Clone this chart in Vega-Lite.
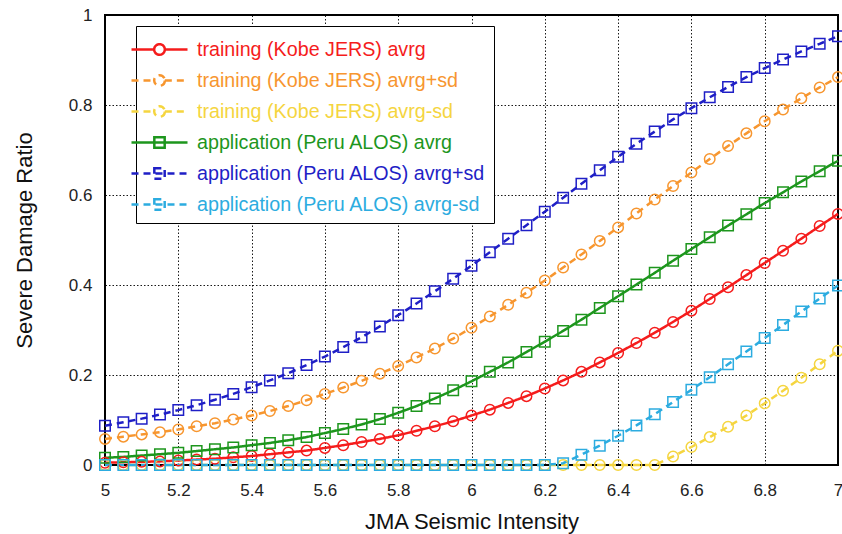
{
  "$schema": "https://vega.github.io/schema/vega-lite/v6.json",
  "width": 733,
  "height": 450,
  "autosize": "none",
  "padding": {"left": 105, "top": 15, "right": 4, "bottom": 69},
  "background": "white",
  "config": {
    "font": "Liberation Sans",
    "view": {"stroke": "black", "strokeWidth": 2},
    "axis": {
      "domain": false,
      "ticks": false,
      "tickSize": 0,
      "grid": true,
      "gridColor": "black",
      "gridDash": [1.5, 2],
      "gridWidth": 1,
      "gridOpacity": 0.9,
      "labelFontSize": 17,
      "labelColor": "#222222",
      "titleFontSize": 22,
      "titleFontWeight": "normal",
      "titleColor": "#111111",
      "labelFont": "Liberation Sans",
      "titleFont": "Liberation Sans"
    }
  },
  "datasets": {
    "curves": [
      {"x": 5.00, "y": 0.005, "set": "training", "series": "training (Kobe JERS) avrg"},
      {"x": 5.05, "y": 0.006, "set": "training", "series": "training (Kobe JERS) avrg"},
      {"x": 5.10, "y": 0.007, "set": "training", "series": "training (Kobe JERS) avrg"},
      {"x": 5.15, "y": 0.008, "set": "training", "series": "training (Kobe JERS) avrg"},
      {"x": 5.20, "y": 0.010, "set": "training", "series": "training (Kobe JERS) avrg"},
      {"x": 5.25, "y": 0.012, "set": "training", "series": "training (Kobe JERS) avrg"},
      {"x": 5.30, "y": 0.014, "set": "training", "series": "training (Kobe JERS) avrg"},
      {"x": 5.35, "y": 0.017, "set": "training", "series": "training (Kobe JERS) avrg"},
      {"x": 5.40, "y": 0.020, "set": "training", "series": "training (Kobe JERS) avrg"},
      {"x": 5.45, "y": 0.024, "set": "training", "series": "training (Kobe JERS) avrg"},
      {"x": 5.50, "y": 0.028, "set": "training", "series": "training (Kobe JERS) avrg"},
      {"x": 5.55, "y": 0.032, "set": "training", "series": "training (Kobe JERS) avrg"},
      {"x": 5.60, "y": 0.038, "set": "training", "series": "training (Kobe JERS) avrg"},
      {"x": 5.65, "y": 0.044, "set": "training", "series": "training (Kobe JERS) avrg"},
      {"x": 5.70, "y": 0.051, "set": "training", "series": "training (Kobe JERS) avrg"},
      {"x": 5.75, "y": 0.058, "set": "training", "series": "training (Kobe JERS) avrg"},
      {"x": 5.80, "y": 0.066, "set": "training", "series": "training (Kobe JERS) avrg"},
      {"x": 5.85, "y": 0.076, "set": "training", "series": "training (Kobe JERS) avrg"},
      {"x": 5.90, "y": 0.086, "set": "training", "series": "training (Kobe JERS) avrg"},
      {"x": 5.95, "y": 0.097, "set": "training", "series": "training (Kobe JERS) avrg"},
      {"x": 6.00, "y": 0.110, "set": "training", "series": "training (Kobe JERS) avrg"},
      {"x": 6.05, "y": 0.123, "set": "training", "series": "training (Kobe JERS) avrg"},
      {"x": 6.10, "y": 0.138, "set": "training", "series": "training (Kobe JERS) avrg"},
      {"x": 6.15, "y": 0.153, "set": "training", "series": "training (Kobe JERS) avrg"},
      {"x": 6.20, "y": 0.170, "set": "training", "series": "training (Kobe JERS) avrg"},
      {"x": 6.25, "y": 0.188, "set": "training", "series": "training (Kobe JERS) avrg"},
      {"x": 6.30, "y": 0.207, "set": "training", "series": "training (Kobe JERS) avrg"},
      {"x": 6.35, "y": 0.228, "set": "training", "series": "training (Kobe JERS) avrg"},
      {"x": 6.40, "y": 0.249, "set": "training", "series": "training (Kobe JERS) avrg"},
      {"x": 6.45, "y": 0.271, "set": "training", "series": "training (Kobe JERS) avrg"},
      {"x": 6.50, "y": 0.294, "set": "training", "series": "training (Kobe JERS) avrg"},
      {"x": 6.55, "y": 0.318, "set": "training", "series": "training (Kobe JERS) avrg"},
      {"x": 6.60, "y": 0.343, "set": "training", "series": "training (Kobe JERS) avrg"},
      {"x": 6.65, "y": 0.369, "set": "training", "series": "training (Kobe JERS) avrg"},
      {"x": 6.70, "y": 0.395, "set": "training", "series": "training (Kobe JERS) avrg"},
      {"x": 6.75, "y": 0.422, "set": "training", "series": "training (Kobe JERS) avrg"},
      {"x": 6.80, "y": 0.449, "set": "training", "series": "training (Kobe JERS) avrg"},
      {"x": 6.85, "y": 0.476, "set": "training", "series": "training (Kobe JERS) avrg"},
      {"x": 6.90, "y": 0.503, "set": "training", "series": "training (Kobe JERS) avrg"},
      {"x": 6.95, "y": 0.531, "set": "training", "series": "training (Kobe JERS) avrg"},
      {"x": 7.00, "y": 0.558, "set": "training", "series": "training (Kobe JERS) avrg"},

      {"x": 5.00, "y": 0.058, "set": "training", "series": "training (Kobe JERS) avrg+sd"},
      {"x": 5.05, "y": 0.063, "set": "training", "series": "training (Kobe JERS) avrg+sd"},
      {"x": 5.10, "y": 0.068, "set": "training", "series": "training (Kobe JERS) avrg+sd"},
      {"x": 5.15, "y": 0.073, "set": "training", "series": "training (Kobe JERS) avrg+sd"},
      {"x": 5.20, "y": 0.079, "set": "training", "series": "training (Kobe JERS) avrg+sd"},
      {"x": 5.25, "y": 0.086, "set": "training", "series": "training (Kobe JERS) avrg+sd"},
      {"x": 5.30, "y": 0.093, "set": "training", "series": "training (Kobe JERS) avrg+sd"},
      {"x": 5.35, "y": 0.101, "set": "training", "series": "training (Kobe JERS) avrg+sd"},
      {"x": 5.40, "y": 0.110, "set": "training", "series": "training (Kobe JERS) avrg+sd"},
      {"x": 5.45, "y": 0.120, "set": "training", "series": "training (Kobe JERS) avrg+sd"},
      {"x": 5.50, "y": 0.131, "set": "training", "series": "training (Kobe JERS) avrg+sd"},
      {"x": 5.55, "y": 0.144, "set": "training", "series": "training (Kobe JERS) avrg+sd"},
      {"x": 5.60, "y": 0.158, "set": "training", "series": "training (Kobe JERS) avrg+sd"},
      {"x": 5.65, "y": 0.172, "set": "training", "series": "training (Kobe JERS) avrg+sd"},
      {"x": 5.70, "y": 0.187, "set": "training", "series": "training (Kobe JERS) avrg+sd"},
      {"x": 5.75, "y": 0.203, "set": "training", "series": "training (Kobe JERS) avrg+sd"},
      {"x": 5.80, "y": 0.220, "set": "training", "series": "training (Kobe JERS) avrg+sd"},
      {"x": 5.85, "y": 0.239, "set": "training", "series": "training (Kobe JERS) avrg+sd"},
      {"x": 5.90, "y": 0.259, "set": "training", "series": "training (Kobe JERS) avrg+sd"},
      {"x": 5.95, "y": 0.281, "set": "training", "series": "training (Kobe JERS) avrg+sd"},
      {"x": 6.00, "y": 0.305, "set": "training", "series": "training (Kobe JERS) avrg+sd"},
      {"x": 6.05, "y": 0.330, "set": "training", "series": "training (Kobe JERS) avrg+sd"},
      {"x": 6.10, "y": 0.356, "set": "training", "series": "training (Kobe JERS) avrg+sd"},
      {"x": 6.15, "y": 0.383, "set": "training", "series": "training (Kobe JERS) avrg+sd"},
      {"x": 6.20, "y": 0.410, "set": "training", "series": "training (Kobe JERS) avrg+sd"},
      {"x": 6.25, "y": 0.439, "set": "training", "series": "training (Kobe JERS) avrg+sd"},
      {"x": 6.30, "y": 0.468, "set": "training", "series": "training (Kobe JERS) avrg+sd"},
      {"x": 6.35, "y": 0.498, "set": "training", "series": "training (Kobe JERS) avrg+sd"},
      {"x": 6.40, "y": 0.528, "set": "training", "series": "training (Kobe JERS) avrg+sd"},
      {"x": 6.45, "y": 0.559, "set": "training", "series": "training (Kobe JERS) avrg+sd"},
      {"x": 6.50, "y": 0.590, "set": "training", "series": "training (Kobe JERS) avrg+sd"},
      {"x": 6.55, "y": 0.620, "set": "training", "series": "training (Kobe JERS) avrg+sd"},
      {"x": 6.60, "y": 0.650, "set": "training", "series": "training (Kobe JERS) avrg+sd"},
      {"x": 6.65, "y": 0.680, "set": "training", "series": "training (Kobe JERS) avrg+sd"},
      {"x": 6.70, "y": 0.709, "set": "training", "series": "training (Kobe JERS) avrg+sd"},
      {"x": 6.75, "y": 0.737, "set": "training", "series": "training (Kobe JERS) avrg+sd"},
      {"x": 6.80, "y": 0.764, "set": "training", "series": "training (Kobe JERS) avrg+sd"},
      {"x": 6.85, "y": 0.790, "set": "training", "series": "training (Kobe JERS) avrg+sd"},
      {"x": 6.90, "y": 0.815, "set": "training", "series": "training (Kobe JERS) avrg+sd"},
      {"x": 6.95, "y": 0.839, "set": "training", "series": "training (Kobe JERS) avrg+sd"},
      {"x": 7.00, "y": 0.862, "set": "training", "series": "training (Kobe JERS) avrg+sd"},

      {"x": 5.00, "y": 0, "set": "training", "series": "training (Kobe JERS) avrg-sd"},
      {"x": 5.05, "y": 0, "set": "training", "series": "training (Kobe JERS) avrg-sd"},
      {"x": 5.10, "y": 0, "set": "training", "series": "training (Kobe JERS) avrg-sd"},
      {"x": 5.15, "y": 0, "set": "training", "series": "training (Kobe JERS) avrg-sd"},
      {"x": 5.20, "y": 0, "set": "training", "series": "training (Kobe JERS) avrg-sd"},
      {"x": 5.25, "y": 0, "set": "training", "series": "training (Kobe JERS) avrg-sd"},
      {"x": 5.30, "y": 0, "set": "training", "series": "training (Kobe JERS) avrg-sd"},
      {"x": 5.35, "y": 0, "set": "training", "series": "training (Kobe JERS) avrg-sd"},
      {"x": 5.40, "y": 0, "set": "training", "series": "training (Kobe JERS) avrg-sd"},
      {"x": 5.45, "y": 0, "set": "training", "series": "training (Kobe JERS) avrg-sd"},
      {"x": 5.50, "y": 0, "set": "training", "series": "training (Kobe JERS) avrg-sd"},
      {"x": 5.55, "y": 0, "set": "training", "series": "training (Kobe JERS) avrg-sd"},
      {"x": 5.60, "y": 0, "set": "training", "series": "training (Kobe JERS) avrg-sd"},
      {"x": 5.65, "y": 0, "set": "training", "series": "training (Kobe JERS) avrg-sd"},
      {"x": 5.70, "y": 0, "set": "training", "series": "training (Kobe JERS) avrg-sd"},
      {"x": 5.75, "y": 0, "set": "training", "series": "training (Kobe JERS) avrg-sd"},
      {"x": 5.80, "y": 0, "set": "training", "series": "training (Kobe JERS) avrg-sd"},
      {"x": 5.85, "y": 0, "set": "training", "series": "training (Kobe JERS) avrg-sd"},
      {"x": 5.90, "y": 0, "set": "training", "series": "training (Kobe JERS) avrg-sd"},
      {"x": 5.95, "y": 0, "set": "training", "series": "training (Kobe JERS) avrg-sd"},
      {"x": 6.00, "y": 0, "set": "training", "series": "training (Kobe JERS) avrg-sd"},
      {"x": 6.05, "y": 0, "set": "training", "series": "training (Kobe JERS) avrg-sd"},
      {"x": 6.10, "y": 0, "set": "training", "series": "training (Kobe JERS) avrg-sd"},
      {"x": 6.15, "y": 0, "set": "training", "series": "training (Kobe JERS) avrg-sd"},
      {"x": 6.20, "y": 0, "set": "training", "series": "training (Kobe JERS) avrg-sd"},
      {"x": 6.25, "y": 0, "set": "training", "series": "training (Kobe JERS) avrg-sd"},
      {"x": 6.30, "y": 0, "set": "training", "series": "training (Kobe JERS) avrg-sd"},
      {"x": 6.35, "y": 0, "set": "training", "series": "training (Kobe JERS) avrg-sd"},
      {"x": 6.40, "y": 0, "set": "training", "series": "training (Kobe JERS) avrg-sd"},
      {"x": 6.45, "y": 0, "set": "training", "series": "training (Kobe JERS) avrg-sd"},
      {"x": 6.50, "y": 0, "set": "training", "series": "training (Kobe JERS) avrg-sd"},
      {"x": 6.55, "y": 0.019, "set": "training", "series": "training (Kobe JERS) avrg-sd"},
      {"x": 6.60, "y": 0.040, "set": "training", "series": "training (Kobe JERS) avrg-sd"},
      {"x": 6.65, "y": 0.062, "set": "training", "series": "training (Kobe JERS) avrg-sd"},
      {"x": 6.70, "y": 0.085, "set": "training", "series": "training (Kobe JERS) avrg-sd"},
      {"x": 6.75, "y": 0.110, "set": "training", "series": "training (Kobe JERS) avrg-sd"},
      {"x": 6.80, "y": 0.137, "set": "training", "series": "training (Kobe JERS) avrg-sd"},
      {"x": 6.85, "y": 0.165, "set": "training", "series": "training (Kobe JERS) avrg-sd"},
      {"x": 6.90, "y": 0.194, "set": "training", "series": "training (Kobe JERS) avrg-sd"},
      {"x": 6.95, "y": 0.224, "set": "training", "series": "training (Kobe JERS) avrg-sd"},
      {"x": 7.00, "y": 0.254, "set": "training", "series": "training (Kobe JERS) avrg-sd"},

      {"x": 5.00, "y": 0.016, "set": "application", "series": "application (Peru ALOS) avrg"},
      {"x": 5.05, "y": 0.018, "set": "application", "series": "application (Peru ALOS) avrg"},
      {"x": 5.10, "y": 0.021, "set": "application", "series": "application (Peru ALOS) avrg"},
      {"x": 5.15, "y": 0.024, "set": "application", "series": "application (Peru ALOS) avrg"},
      {"x": 5.20, "y": 0.027, "set": "application", "series": "application (Peru ALOS) avrg"},
      {"x": 5.25, "y": 0.031, "set": "application", "series": "application (Peru ALOS) avrg"},
      {"x": 5.30, "y": 0.035, "set": "application", "series": "application (Peru ALOS) avrg"},
      {"x": 5.35, "y": 0.039, "set": "application", "series": "application (Peru ALOS) avrg"},
      {"x": 5.40, "y": 0.044, "set": "application", "series": "application (Peru ALOS) avrg"},
      {"x": 5.45, "y": 0.049, "set": "application", "series": "application (Peru ALOS) avrg"},
      {"x": 5.50, "y": 0.055, "set": "application", "series": "application (Peru ALOS) avrg"},
      {"x": 5.55, "y": 0.062, "set": "application", "series": "application (Peru ALOS) avrg"},
      {"x": 5.60, "y": 0.071, "set": "application", "series": "application (Peru ALOS) avrg"},
      {"x": 5.65, "y": 0.080, "set": "application", "series": "application (Peru ALOS) avrg"},
      {"x": 5.70, "y": 0.090, "set": "application", "series": "application (Peru ALOS) avrg"},
      {"x": 5.75, "y": 0.102, "set": "application", "series": "application (Peru ALOS) avrg"},
      {"x": 5.80, "y": 0.116, "set": "application", "series": "application (Peru ALOS) avrg"},
      {"x": 5.85, "y": 0.131, "set": "application", "series": "application (Peru ALOS) avrg"},
      {"x": 5.90, "y": 0.148, "set": "application", "series": "application (Peru ALOS) avrg"},
      {"x": 5.95, "y": 0.166, "set": "application", "series": "application (Peru ALOS) avrg"},
      {"x": 6.00, "y": 0.186, "set": "application", "series": "application (Peru ALOS) avrg"},
      {"x": 6.05, "y": 0.207, "set": "application", "series": "application (Peru ALOS) avrg"},
      {"x": 6.10, "y": 0.228, "set": "application", "series": "application (Peru ALOS) avrg"},
      {"x": 6.15, "y": 0.251, "set": "application", "series": "application (Peru ALOS) avrg"},
      {"x": 6.20, "y": 0.274, "set": "application", "series": "application (Peru ALOS) avrg"},
      {"x": 6.25, "y": 0.298, "set": "application", "series": "application (Peru ALOS) avrg"},
      {"x": 6.30, "y": 0.323, "set": "application", "series": "application (Peru ALOS) avrg"},
      {"x": 6.35, "y": 0.349, "set": "application", "series": "application (Peru ALOS) avrg"},
      {"x": 6.40, "y": 0.375, "set": "application", "series": "application (Peru ALOS) avrg"},
      {"x": 6.45, "y": 0.401, "set": "application", "series": "application (Peru ALOS) avrg"},
      {"x": 6.50, "y": 0.427, "set": "application", "series": "application (Peru ALOS) avrg"},
      {"x": 6.55, "y": 0.454, "set": "application", "series": "application (Peru ALOS) avrg"},
      {"x": 6.60, "y": 0.480, "set": "application", "series": "application (Peru ALOS) avrg"},
      {"x": 6.65, "y": 0.506, "set": "application", "series": "application (Peru ALOS) avrg"},
      {"x": 6.70, "y": 0.532, "set": "application", "series": "application (Peru ALOS) avrg"},
      {"x": 6.75, "y": 0.557, "set": "application", "series": "application (Peru ALOS) avrg"},
      {"x": 6.80, "y": 0.582, "set": "application", "series": "application (Peru ALOS) avrg"},
      {"x": 6.85, "y": 0.606, "set": "application", "series": "application (Peru ALOS) avrg"},
      {"x": 6.90, "y": 0.630, "set": "application", "series": "application (Peru ALOS) avrg"},
      {"x": 6.95, "y": 0.653, "set": "application", "series": "application (Peru ALOS) avrg"},
      {"x": 7.00, "y": 0.676, "set": "application", "series": "application (Peru ALOS) avrg"},

      {"x": 5.00, "y": 0.087, "set": "application", "series": "application (Peru ALOS) avrg+sd"},
      {"x": 5.05, "y": 0.095, "set": "application", "series": "application (Peru ALOS) avrg+sd"},
      {"x": 5.10, "y": 0.103, "set": "application", "series": "application (Peru ALOS) avrg+sd"},
      {"x": 5.15, "y": 0.112, "set": "application", "series": "application (Peru ALOS) avrg+sd"},
      {"x": 5.20, "y": 0.122, "set": "application", "series": "application (Peru ALOS) avrg+sd"},
      {"x": 5.25, "y": 0.133, "set": "application", "series": "application (Peru ALOS) avrg+sd"},
      {"x": 5.30, "y": 0.145, "set": "application", "series": "application (Peru ALOS) avrg+sd"},
      {"x": 5.35, "y": 0.158, "set": "application", "series": "application (Peru ALOS) avrg+sd"},
      {"x": 5.40, "y": 0.173, "set": "application", "series": "application (Peru ALOS) avrg+sd"},
      {"x": 5.45, "y": 0.188, "set": "application", "series": "application (Peru ALOS) avrg+sd"},
      {"x": 5.50, "y": 0.204, "set": "application", "series": "application (Peru ALOS) avrg+sd"},
      {"x": 5.55, "y": 0.222, "set": "application", "series": "application (Peru ALOS) avrg+sd"},
      {"x": 5.60, "y": 0.241, "set": "application", "series": "application (Peru ALOS) avrg+sd"},
      {"x": 5.65, "y": 0.262, "set": "application", "series": "application (Peru ALOS) avrg+sd"},
      {"x": 5.70, "y": 0.284, "set": "application", "series": "application (Peru ALOS) avrg+sd"},
      {"x": 5.75, "y": 0.308, "set": "application", "series": "application (Peru ALOS) avrg+sd"},
      {"x": 5.80, "y": 0.333, "set": "application", "series": "application (Peru ALOS) avrg+sd"},
      {"x": 5.85, "y": 0.359, "set": "application", "series": "application (Peru ALOS) avrg+sd"},
      {"x": 5.90, "y": 0.386, "set": "application", "series": "application (Peru ALOS) avrg+sd"},
      {"x": 5.95, "y": 0.414, "set": "application", "series": "application (Peru ALOS) avrg+sd"},
      {"x": 6.00, "y": 0.443, "set": "application", "series": "application (Peru ALOS) avrg+sd"},
      {"x": 6.05, "y": 0.473, "set": "application", "series": "application (Peru ALOS) avrg+sd"},
      {"x": 6.10, "y": 0.503, "set": "application", "series": "application (Peru ALOS) avrg+sd"},
      {"x": 6.15, "y": 0.533, "set": "application", "series": "application (Peru ALOS) avrg+sd"},
      {"x": 6.20, "y": 0.563, "set": "application", "series": "application (Peru ALOS) avrg+sd"},
      {"x": 6.25, "y": 0.594, "set": "application", "series": "application (Peru ALOS) avrg+sd"},
      {"x": 6.30, "y": 0.625, "set": "application", "series": "application (Peru ALOS) avrg+sd"},
      {"x": 6.35, "y": 0.655, "set": "application", "series": "application (Peru ALOS) avrg+sd"},
      {"x": 6.40, "y": 0.685, "set": "application", "series": "application (Peru ALOS) avrg+sd"},
      {"x": 6.45, "y": 0.714, "set": "application", "series": "application (Peru ALOS) avrg+sd"},
      {"x": 6.50, "y": 0.741, "set": "application", "series": "application (Peru ALOS) avrg+sd"},
      {"x": 6.55, "y": 0.768, "set": "application", "series": "application (Peru ALOS) avrg+sd"},
      {"x": 6.60, "y": 0.793, "set": "application", "series": "application (Peru ALOS) avrg+sd"},
      {"x": 6.65, "y": 0.817, "set": "application", "series": "application (Peru ALOS) avrg+sd"},
      {"x": 6.70, "y": 0.840, "set": "application", "series": "application (Peru ALOS) avrg+sd"},
      {"x": 6.75, "y": 0.862, "set": "application", "series": "application (Peru ALOS) avrg+sd"},
      {"x": 6.80, "y": 0.882, "set": "application", "series": "application (Peru ALOS) avrg+sd"},
      {"x": 6.85, "y": 0.901, "set": "application", "series": "application (Peru ALOS) avrg+sd"},
      {"x": 6.90, "y": 0.919, "set": "application", "series": "application (Peru ALOS) avrg+sd"},
      {"x": 6.95, "y": 0.936, "set": "application", "series": "application (Peru ALOS) avrg+sd"},
      {"x": 7.00, "y": 0.953, "set": "application", "series": "application (Peru ALOS) avrg+sd"},

      {"x": 5.00, "y": 0, "set": "application", "series": "application (Peru ALOS) avrg-sd"},
      {"x": 5.05, "y": 0, "set": "application", "series": "application (Peru ALOS) avrg-sd"},
      {"x": 5.10, "y": 0, "set": "application", "series": "application (Peru ALOS) avrg-sd"},
      {"x": 5.15, "y": 0, "set": "application", "series": "application (Peru ALOS) avrg-sd"},
      {"x": 5.20, "y": 0, "set": "application", "series": "application (Peru ALOS) avrg-sd"},
      {"x": 5.25, "y": 0, "set": "application", "series": "application (Peru ALOS) avrg-sd"},
      {"x": 5.30, "y": 0, "set": "application", "series": "application (Peru ALOS) avrg-sd"},
      {"x": 5.35, "y": 0, "set": "application", "series": "application (Peru ALOS) avrg-sd"},
      {"x": 5.40, "y": 0, "set": "application", "series": "application (Peru ALOS) avrg-sd"},
      {"x": 5.45, "y": 0, "set": "application", "series": "application (Peru ALOS) avrg-sd"},
      {"x": 5.50, "y": 0, "set": "application", "series": "application (Peru ALOS) avrg-sd"},
      {"x": 5.55, "y": 0, "set": "application", "series": "application (Peru ALOS) avrg-sd"},
      {"x": 5.60, "y": 0, "set": "application", "series": "application (Peru ALOS) avrg-sd"},
      {"x": 5.65, "y": 0, "set": "application", "series": "application (Peru ALOS) avrg-sd"},
      {"x": 5.70, "y": 0, "set": "application", "series": "application (Peru ALOS) avrg-sd"},
      {"x": 5.75, "y": 0, "set": "application", "series": "application (Peru ALOS) avrg-sd"},
      {"x": 5.80, "y": 0, "set": "application", "series": "application (Peru ALOS) avrg-sd"},
      {"x": 5.85, "y": 0, "set": "application", "series": "application (Peru ALOS) avrg-sd"},
      {"x": 5.90, "y": 0, "set": "application", "series": "application (Peru ALOS) avrg-sd"},
      {"x": 5.95, "y": 0, "set": "application", "series": "application (Peru ALOS) avrg-sd"},
      {"x": 6.00, "y": 0, "set": "application", "series": "application (Peru ALOS) avrg-sd"},
      {"x": 6.05, "y": 0, "set": "application", "series": "application (Peru ALOS) avrg-sd"},
      {"x": 6.10, "y": 0, "set": "application", "series": "application (Peru ALOS) avrg-sd"},
      {"x": 6.15, "y": 0, "set": "application", "series": "application (Peru ALOS) avrg-sd"},
      {"x": 6.20, "y": 0, "set": "application", "series": "application (Peru ALOS) avrg-sd"},
      {"x": 6.25, "y": 0.004, "set": "application", "series": "application (Peru ALOS) avrg-sd"},
      {"x": 6.30, "y": 0.023, "set": "application", "series": "application (Peru ALOS) avrg-sd"},
      {"x": 6.35, "y": 0.043, "set": "application", "series": "application (Peru ALOS) avrg-sd"},
      {"x": 6.40, "y": 0.065, "set": "application", "series": "application (Peru ALOS) avrg-sd"},
      {"x": 6.45, "y": 0.088, "set": "application", "series": "application (Peru ALOS) avrg-sd"},
      {"x": 6.50, "y": 0.113, "set": "application", "series": "application (Peru ALOS) avrg-sd"},
      {"x": 6.55, "y": 0.140, "set": "application", "series": "application (Peru ALOS) avrg-sd"},
      {"x": 6.60, "y": 0.167, "set": "application", "series": "application (Peru ALOS) avrg-sd"},
      {"x": 6.65, "y": 0.195, "set": "application", "series": "application (Peru ALOS) avrg-sd"},
      {"x": 6.70, "y": 0.224, "set": "application", "series": "application (Peru ALOS) avrg-sd"},
      {"x": 6.75, "y": 0.252, "set": "application", "series": "application (Peru ALOS) avrg-sd"},
      {"x": 6.80, "y": 0.282, "set": "application", "series": "application (Peru ALOS) avrg-sd"},
      {"x": 6.85, "y": 0.311, "set": "application", "series": "application (Peru ALOS) avrg-sd"},
      {"x": 6.90, "y": 0.341, "set": "application", "series": "application (Peru ALOS) avrg-sd"},
      {"x": 6.95, "y": 0.370, "set": "application", "series": "application (Peru ALOS) avrg-sd"},
      {"x": 7.00, "y": 0.399, "set": "application", "series": "application (Peru ALOS) avrg-sd"}
    ]
  },
  "data": {"name": "curves"},
  "encoding": {
    "x": {
      "field": "x", "type": "quantitative",
      "scale": {"domain": [5, 7], "nice": false, "zero": false},
      "axis": {
        "title": "JMA Seismic Intensity",
        "values": [5, 5.2, 5.4, 5.6, 5.8, 6, 6.2, 6.4, 6.6, 6.8, 7],
        "format": "~f",
        "labelPadding": 30,
        "labelBaseline": "alphabetic",
        "labelFlush": false,
        "titleY": 63,
        "titleBaseline": "alphabetic"
      }
    },
    "y": {
      "field": "y", "type": "quantitative",
      "scale": {"domain": [0, 1], "nice": false},
      "axis": {
        "title": "Severe Damage Ratio",
        "values": [0, 0.2, 0.4, 0.6, 0.8, 1],
        "format": "~f",
        "labelPadding": 13,
        "labelFlush": false,
        "titleX": -81,
        "titleY": 225,
        "titleAngle": -90,
        "titleBaseline": "middle",
        "titleAlign": "center"
      }
    },
    "color": {
      "field": "series", "type": "nominal",
      "scale": {
        "domain": ["training (Kobe JERS) avrg", "training (Kobe JERS) avrg+sd", "training (Kobe JERS) avrg-sd", "application (Peru ALOS) avrg", "application (Peru ALOS) avrg+sd", "application (Peru ALOS) avrg-sd"],
        "range": ["#f51c1c", "#f7962f", "#f5d53f", "#1d961d", "#1f1fc6", "#2cace0"]
      },
      "legend": {
        "title": null,
        "orient": "none",
        "legendX": 31,
        "legendY": 11,
        "padding": 8,
        "strokeColor": "black",
        "fillColor": "white",
        "labelFontSize": 19.7,
        "labelFont": "Liberation Sans",
        "labelLimit": 0,
        "labelOffset": 22,
        "rowPadding": 5,
        "symbolSize": 784,
        "symbolStrokeWidth": 2.5,
        "symbolType": {"expr": "indexof(datum.value, 'training') == 0 ? 'M-2,0L-0.38,0M0.38,0L2,0M0.38,0A0.38,0.38,0,1,1,-0.38,0A0.38,0.38,0,1,1,0.38,0Z' : 'M-2,0L2,0M-0.37,-0.37L0.37,-0.37L0.37,0.37L-0.37,0.37Z'"},
        "labelColor": {"expr": "scale('color', datum.value)"}
      }
    }
  },
  "layer": [
    {
      "mark": {"type": "line", "strokeWidth": 2.5},
      "encoding": {
        "strokeDash": {
          "field": "series", "type": "nominal",
          "scale": {
            "domain": ["training (Kobe JERS) avrg", "training (Kobe JERS) avrg+sd", "training (Kobe JERS) avrg-sd", "application (Peru ALOS) avrg", "application (Peru ALOS) avrg+sd", "application (Peru ALOS) avrg-sd"],
            "range": [[1, 0], [7, 5], [7, 5], [1, 0], [7, 5], [7, 5]]
          },
          "legend": {"title": null}
        }
      }
    },
    {
      "mark": {"type": "point", "filled": false, "size": 110, "strokeWidth": 1.5, "opacity": 1},
      "encoding": {
        "shape": {
          "field": "set", "type": "nominal",
          "scale": {
            "domain": ["training", "application"],
            "range": ["circle", "square"]
          },
          "legend": null
        }
      }
    }
  ]
}
